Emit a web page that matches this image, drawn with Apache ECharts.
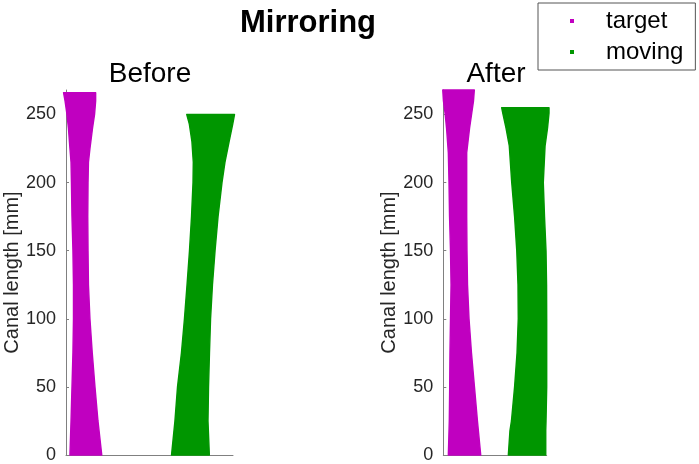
<!DOCTYPE html>
<html>
<head>
<meta charset="utf-8">
<script src="https://cdn.jsdelivr.net/npm/echarts@6/dist/echarts.min.js"></script>
<style>
html,body{margin:0;padding:0;background:#fff;}
#chart{width:699px;height:464px;}
</style>
</head>
<body>
<div id="chart"></div>
<script>
// ---- data (canal outlines, y = canal length [mm], left/right edges in mm) ----
const tickLabels = [0, 50, 100, 150, 200, 250];
const yMax = 268;

const beforeTargetY     = [0, 25, 50, 75, 100, 125, 150, 175, 200, 215, 225, 240, 250, 260, 266];
const beforeTargetLeft  = [2.9, 3.7, 4.4, 5.1, 5.5, 5.5, 5.1, 4.4, 4.0, 3.7, 2.9, 1.8, 0.7, -0.7, -1.8];
const beforeTargetRight = [26.3, 23.5, 21.3, 19.3, 17.6, 16.5, 16.2, 16.0, 16.2, 16.5, 17.6, 19.5, 21.0, 21.8, 21.8];

const beforeMovingY     = [0, 25, 50, 75, 100, 125, 150, 175, 200, 215, 230, 243, 250];
const beforeMovingLeft  = [77.6, 80.1, 82.0, 84.9, 87.1, 89.0, 90.8, 92.3, 93.4, 93.6, 92.6, 90.7, 88.8];
const beforeMovingRight = [105.4, 104.4, 104.8, 105.5, 106.3, 107.7, 109.6, 111.8, 114.7, 116.9, 119.9, 122.6, 123.9];

const afterTargetY      = [0, 25, 50, 75, 100, 125, 150, 175, 200, 222, 240, 251, 260, 268];
const afterTargetLeft   = [3.7, 4.4, 4.7, 4.9, 5.3, 5.7, 5.3, 4.6, 4.2, 3.7, 2.4, 1.3, 0.1, -0.4];
const afterTargetRight  = [27.5, 25.1, 22.9, 20.7, 18.9, 17.8, 17.4, 17.2, 17.2, 17.2, 19.3, 20.9, 22.2, 22.8];

const afterMovingY      = [0, 18, 25, 50, 75, 100, 125, 150, 175, 200, 227, 240, 251, 255];
const afterMovingLeft   = [47.8, 49.0, 50.1, 52.4, 54.2, 55.1, 54.9, 54.0, 52.4, 50.3, 48.5, 46.1, 43.7, 42.9];
const afterMovingRight  = [75.3, 75.3, 75.5, 76.0, 76.0, 76.0, 75.9, 75.5, 74.4, 73.5, 74.8, 76.6, 77.7, 77.7];

const xRangeBefore = [0, 122.8];
const xRangeAfter  = [0, 76.0];

const seriesNames = ['target', 'moving'];
const colors = { target: '#c000c0', moving: '#009600' };

// ---- build polygon outline (up left edge, down right edge) ----
function outline(ys, ls, rs) {
  const pts = [];
  for (let i = 0; i < ys.length; i++) pts.push([ls[i], ys[i]]);
  for (let i = ys.length - 1; i >= 0; i--) pts.push([rs[i], ys[i]]);
  return pts;
}

function shapeSeries(name, gridIdx, ys, ls, rs) {
  const pts = outline(ys, ls, rs);
  return {
    type: 'custom',
    name: name,
    xAxisIndex: gridIdx,
    yAxisIndex: gridIdx,
    clip: false,
    silent: true,
    data: pts,
    encode: { x: 0, y: 1 },
    itemStyle: { color: colors[name] },
    renderItem: function (params, api) {
      if (params.dataIndex !== 0) return null;
      const points = pts.map(p => api.coord(p));
      return {
        type: 'polygon',
        shape: { points: points },
        style: { fill: colors[name], stroke: colors[name], lineWidth: 1.4, lineJoin: 'round' }
      };
    }
  };
}

const font = '"Liberation Sans", Arial, Helvetica, sans-serif';

function yAxisCfg(gridIdx) {
  return {
    type: 'value',
    gridIndex: gridIdx,
    min: 0,
    max: yMax,
    name: 'Canal length [mm]',
    nameLocation: 'middle',
    nameGap: 43,
    nameTextStyle: { fontFamily: font, fontSize: 20, color: '#262626' },
    axisLine: { show: true, lineStyle: { color: '#808080', width: 1 } },
    axisTick: { show: true, inside: true, length: 3, lineStyle: { color: '#808080' }, customValues: tickLabels },
    axisLabel: { fontFamily: font, fontSize: 18, color: '#262626', margin: 10, customValues: tickLabels },
    splitLine: { show: false }
  };
}

function xAxisCfg(gridIdx, range) {
  return {
    type: 'value',
    gridIndex: gridIdx,
    min: range[0],
    max: range[1],
    axisLine: { show: true, onZero: false, lineStyle: { color: '#808080', width: 1 } },
    axisTick: { show: false },
    axisLabel: { show: false },
    splitLine: { show: false }
  };
}

const chart = echarts.init(document.getElementById('chart'), null, { renderer: 'canvas' });

chart.setOption({
  backgroundColor: '#ffffff',
  animation: false,
  title: [
    { text: 'Mirroring', left: 308, top: 8, textAlign: 'center', padding: 0,
      textStyle: { fontFamily: font, fontSize: 31, fontWeight: 'bold', color: '#000' } },
    { text: 'Before', left: 150, top: 60, textAlign: 'center', padding: 0,
      textStyle: { fontFamily: font, fontSize: 28, fontWeight: 'normal', color: '#000' } },
    { text: 'After', left: 496, top: 60, textAlign: 'center', padding: 0,
      textStyle: { fontFamily: font, fontSize: 28, fontWeight: 'normal', color: '#000' } }
  ],
  legend: {
    data: seriesNames,
    orient: 'vertical',
    left: 538,
    top: 3,
    padding: [6, 12, 6, 32],
    itemWidth: 4,
    itemHeight: 4,
    itemGap: 7,
    icon: 'rect',
    borderColor: '#555',
    borderWidth: 1,
    textStyle: { fontFamily: font, fontSize: 24, color: '#000', lineHeight: 24, padding: [0, 0, 0, 27] }
  },
  grid: [
    { left: 66, top: 90, width: 167, height: 365 },
    { left: 443.3, top: 90, width: 103.4, height: 365 }
  ],
  xAxis: [xAxisCfg(0, xRangeBefore), xAxisCfg(1, xRangeAfter)],
  yAxis: [yAxisCfg(0), yAxisCfg(1)],
  series: [
    shapeSeries('target', 0, beforeTargetY, beforeTargetLeft, beforeTargetRight),
    shapeSeries('moving', 0, beforeMovingY, beforeMovingLeft, beforeMovingRight),
    shapeSeries('target', 1, afterTargetY, afterTargetLeft, afterTargetRight),
    shapeSeries('moving', 1, afterMovingY, afterMovingLeft, afterMovingRight)
  ]
});
</script>
</body>
</html>
